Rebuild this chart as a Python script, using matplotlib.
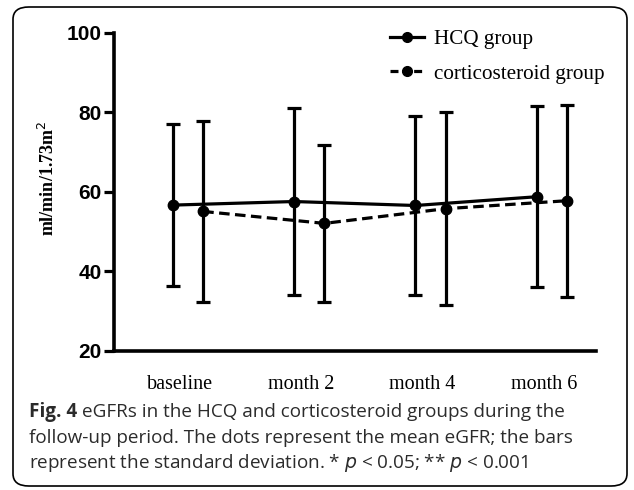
import matplotlib
matplotlib.use("Agg")
import matplotlib.pyplot as plt
from matplotlib.lines import Line2D
from matplotlib.patches import FancyBboxPatch
import numpy as np

# data
categories = ["baseline", "month 2", "month 4", "month 6"]
hcq_mean = [56.7, 57.6, 56.6, 58.8]
hcq_sd = [20.3, 23.6, 22.6, 22.8]
cort_mean = [55.1, 52.1, 55.8, 57.8]
cort_sd = [22.7, 19.8, 24.3, 24.1]

caption_lines = [
    "eGFRs in the HCQ and corticosteroid groups during the",
    "follow-up period. The dots represent the mean eGFR; the bars",
    "represent the standard deviation. * $p$ < 0.05; ** $p$ < 0.001",
]

fig = plt.figure(figsize=(6.34, 4.9), dpi=100)
ax = fig.add_axes([0.18, 0.2837, 0.76, 0.649])

x = np.arange(len(categories))
lw = 2.3
ax.errorbar(x - 0.06, hcq_mean, yerr=hcq_sd, fmt='-o', color='black', lw=lw,
            ms=7.5, capsize=5, capthick=lw, elinewidth=lw)
ax.errorbar(x + 0.19, cort_mean, yerr=cort_sd, fmt='--o', color='black', lw=lw,
            ms=7.5, capsize=5, capthick=lw, elinewidth=lw, dashes=(3.3, 1.7))

ax.set_xlim(-0.545, 3.43)
ax.set_ylim(20, 100)
ax.set_yticks([20, 40, 60, 80, 100])
ax.set_xticks(x)
ax.set_xticklabels(categories, family='Liberation Serif', fontsize=14.5)
ax.tick_params(axis='x', length=0, pad=17)
ax.tick_params(axis='y', length=7, width=2.3, pad=2)
for lab in ax.get_yticklabels():
    lab.set_family('Liberation Sans')
    lab.set_fontweight('bold')
    lab.set_fontsize(15)
for s in ['top', 'right']:
    ax.spines[s].set_visible(False)
for s in ['left', 'bottom']:
    ax.spines[s].set_linewidth(2.6)

fig.text(0.076, 0.637, r"ml/min/1.73m$^{\mathrm{2}}$", rotation=90, ha='center', va='center',
         family='Liberation Serif', fontweight='bold', fontsize=13)

handles = [Line2D([], [], color='black', lw=lw, marker='o', ms=7),
           Line2D([], [], color='black', lw=lw, ls='--', dashes=(2.5, 1.2), marker='o', ms=7)]
leg = fig.legend(handles, ["HCQ group", "corticosteroid group"], loc='upper left',
                 bbox_to_anchor=(379 / 634, 1 - 19 / 490), frameon=False, borderpad=0,
                 handlelength=1.65, handletextpad=0.45, labelspacing=0.7,
                 prop={'family': 'Liberation Serif', 'size': 15.2})

# caption
cap_font = {'family': 'Open Sans', 'size': 13.6, 'color': '#2b2b2b'}
fig.canvas.draw()
r = fig.canvas.get_renderer()
t0 = fig.text(29 / 634, 1 - 417 / 490, "Fig. 4", fontweight='bold', va='baseline', **cap_font)
bb = t0.get_window_extent(renderer=r)
fig.text((bb.x1 + 5) / 634, 1 - 417 / 490, caption_lines[0], va='baseline', **cap_font)
fig.text(29 / 634, 1 - 443 / 490, caption_lines[1], va='baseline', **cap_font)
fig.text(29 / 634, 1 - 468 / 490, caption_lines[2], va='baseline', **cap_font)

box = FancyBboxPatch((13 / 634, 4 / 490), 614 / 634, 479 / 490, transform=fig.transFigure,
                     boxstyle="round,pad=0,rounding_size=0.025", fc='none', ec='black', lw=1.2)
fig.patches.append(box)

fig.savefig("out.png", dpi=100)
